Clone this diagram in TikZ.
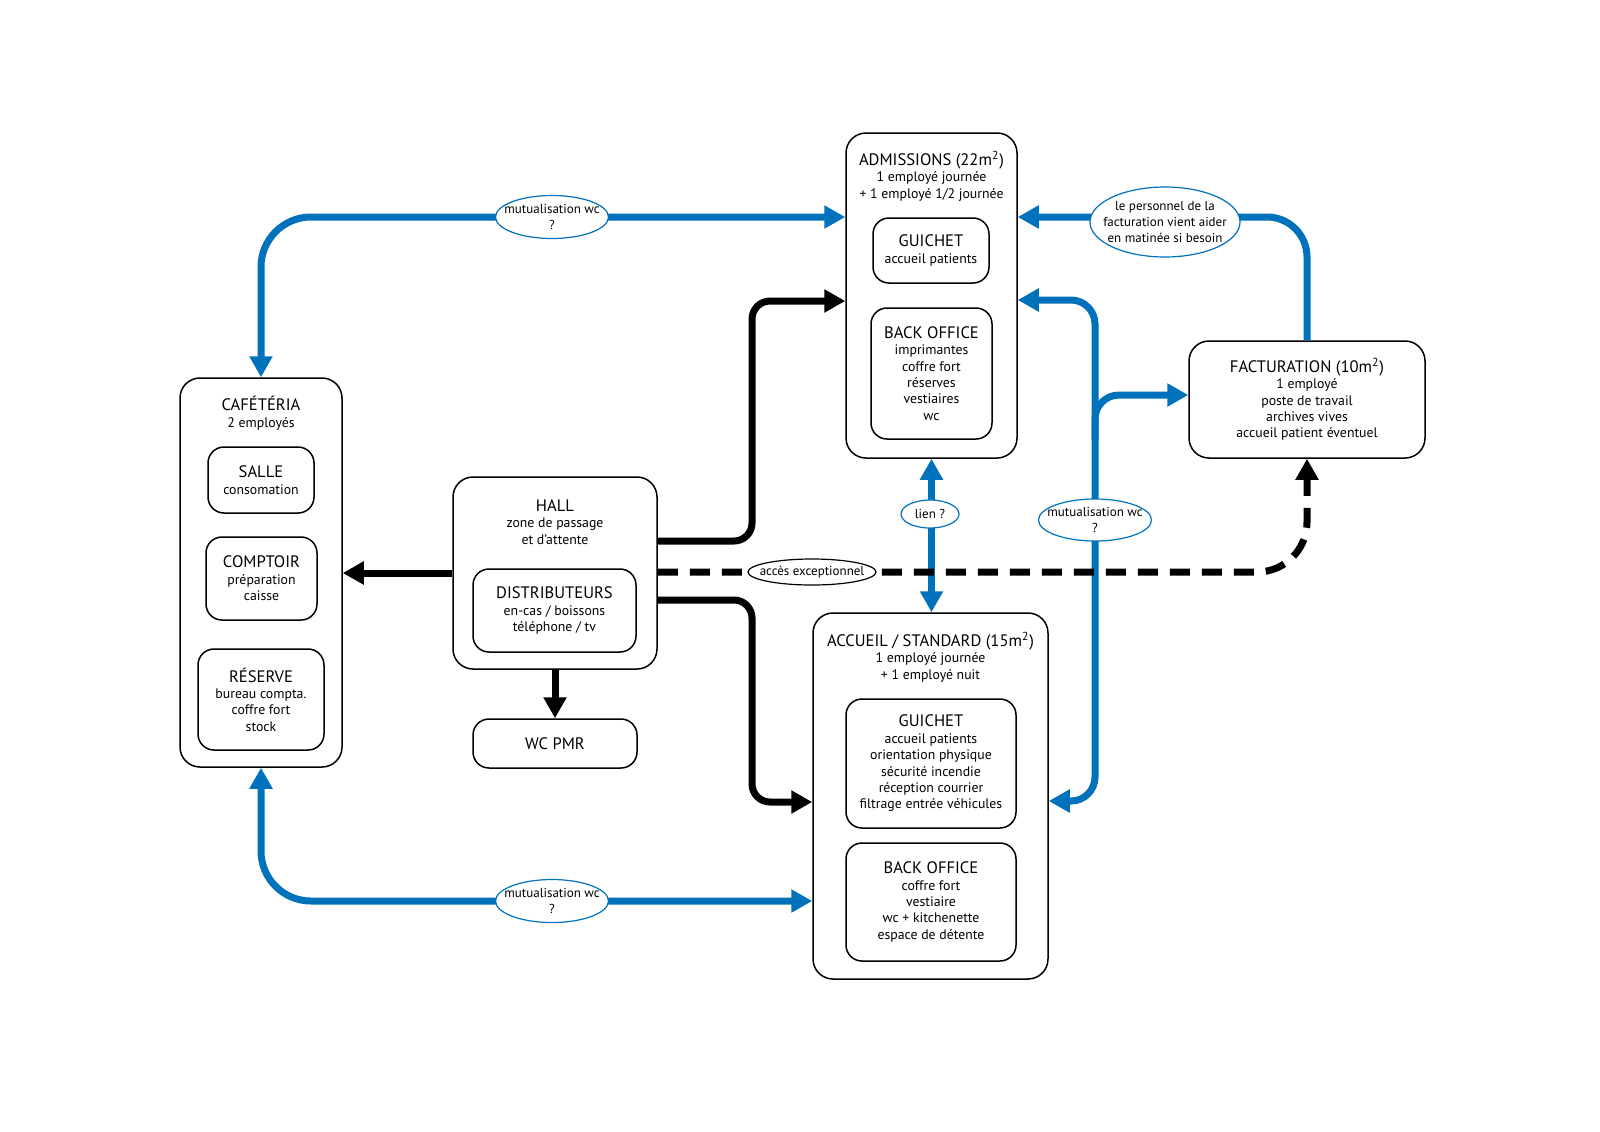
\documentclass[tikz,border=0pt]{standalone}
\usepackage{fontspec}
\setmainfont{PT Sans}
\usetikzlibrary{arrows.meta,shapes.geometric}
\definecolor{cblue}{RGB}{0,114,188}
\newcommand\bsz{\fontsize{6.9}{8.2}\selectfont}
\newcommand\tsz{\fontsize{8.3}{8.8}\selectfont}
\newcommand\esz{\fontsize{6.5}{8.0}\selectfont}
\begin{document}
\begin{tikzpicture}[x=0.5pt,y=-0.5pt,
 font=\bsz,
 box/.style={draw, line width=0.75pt, rounded corners=10pt, inner sep=0pt, align=center},
 ibox/.style={draw, line width=0.75pt, rounded corners=8pt, align=center, inner sep=0pt},
 ttl/.style={align=center, inner sep=0pt, anchor=north},
 bl/.style={draw=cblue, line width=3.5pt},
 bk/.style={draw=black, line width=3.5pt},
 bigtip/.tip={Triangle[length=10.5pt,width=11pt]},
 ell/.style={ellipse, draw=cblue, line width=0.6pt, fill=white, inner sep=0pt},
 etxt/.style={align=center, inner sep=0pt, font=\esz},
]
\useasboundingbox (0,0) rectangle (1600,1131);

% outer boxes
\node[box, minimum width=85.5pt, minimum height=162.5pt] (adm) at (931.5,295.5) {};
\node[ttl] (admt) at (931.5,151) {{\tsz ADMISSIONS (22m\textsuperscript{2})}\\1 employé journée\\+ 1 employé 1/2 journée};
\node[ibox, minimum width=58pt, minimum height=32.5pt] (admg) at (931,250.5) {{\tsz GUICHET}\\accueil patients};
\node[ibox, minimum width=60.5pt, minimum height=65.5pt] (admb) at (931.5,373.5) {{\tsz BACK OFFICE}\\imprimantes\\coffre fort\\réserves\\vestiaires\\wc};

\node[box, minimum width=81pt, minimum height=194.5pt] (caf) at (261,572.5) {};
\node[ttl] (caft) at (261,396) {{\tsz CAFÉTÉRIA}\\2 employés};
\node[ibox, minimum width=53pt, minimum height=33pt] (salle) at (261,480) {{\tsz SALLE}\\consomation};
\node[ibox, minimum width=55.5pt, minimum height=41.5pt] (compt) at (261.5,578.5) {{\tsz COMPTOIR}\\préparation\\caisse};
\node[ibox, minimum width=63pt, minimum height=50.5pt] (res) at (261,699.5) {{\tsz RÉSERVE}\\bureau compta.\\coffre fort\\stock};

\node[box, minimum width=102pt, minimum height=96pt] (hall) at (555,573) {};
\node[ttl] (hallt) at (555,499) {{\tsz HALL}\\zone de passage\\et d'attente};
\node[ibox, minimum width=81.5pt, minimum height=41.5pt] (distr) at (554.5,610.5) {{\tsz DISTRIBUTEURS}\\en-cas / boissons\\téléphone / tv};
\node[ibox, minimum width=82pt, minimum height=24.5pt] (wc) at (555,743.5) {{\tsz WC PMR}};

\node[box, minimum width=117.5pt, minimum height=183pt] (acc) at (930.5,796) {};
\node[ttl] (acct) at (930.5,632) {{\tsz ACCUEIL / STANDARD (15m\textsuperscript{2})}\\1 employé journée\\+ 1 employé nuit};
\node[ibox, minimum width=85pt, minimum height=64.5pt] (accg) at (931,763.5) {{\tsz GUICHET}\\accueil patients\\orientation physique\\sécurité incendie\\réception courrier\\filtrage entrée véhicules};
\node[ibox, minimum width=85pt, minimum height=59pt] (accb) at (931,902) {{\tsz BACK OFFICE}\\coffre fort\\vestiaire\\wc + kitchenette\\espace de détente};

\node[box, minimum width=118pt, minimum height=58.5pt] (fac) at (1307,399.5) {{\tsz FACTURATION (10m\textsuperscript{2})}\\1 employé\\poste de travail\\archives vives\\accueil patient éventuel};

% blue connectors
\draw[bl, rounded corners=25pt, {bigtip}-{bigtip}] (caf.north) |- (adm.west |- 0,217);
\draw[bl, rounded corners=25pt, {bigtip}-{bigtip}] (caf.south) |- (acc.west |- 0,901);
\draw[bl, {bigtip}-{bigtip}] (adm.south) -- (adm.south |- acc.north);
\draw[bl, rounded corners=12pt, {bigtip}-{bigtip}] (adm.east |- 0,300) -| (1095,801) -- (acc.east |- 0,801);
\draw[bl, rounded corners=12pt, -{bigtip}] (1095,440) |- (fac.west |- 0,395);
\draw[bl, rounded corners=20pt, -{bigtip}] (fac.north) |- (adm.east |- 0,217);

% black connectors
\draw[bk, rounded corners=9pt, -{bigtip}] (hall.east |- 0,541) -| (752,301) -- (adm.west |- 0,301);
\draw[bk, rounded corners=9pt, -{bigtip}] (hall.east |- 0,600) -| (752,802) -- (acc.west |- 0,802);
\draw[bk, -{bigtip}] (hall.west) -- (caf.east |- hall.west);
\draw[bk, -{bigtip}] (hall.south) -- (wc.north);
\draw[bk, dash pattern=on 10pt off 6pt, rounded corners=25pt, -{bigtip}] (hall.east |- 0,572) -| (fac.south);

% labels
\node[ell, minimum width=56.5pt, minimum height=21.5pt] (m1) at (552,217) {};
\node[etxt] (m1t) at (m1) {mutualisation wc\\?};
\node[ell, minimum width=56.5pt, minimum height=21.5pt] (m2) at (552,901) {};
\node[etxt] (m2t) at (m2) {mutualisation wc\\?};
\node[ell, minimum width=56.5pt, minimum height=21pt] (m3) at (1095,520) {};
\node[etxt] (m3t) at (m3) {mutualisation wc\\?};
\node[ell, minimum width=75pt, minimum height=35pt] (pers) at (1165,222) {};
\node[etxt] (perst) at (pers) {le personnel de la\\facturation vient aider\\en matinée si besoin};
\node[ell, minimum width=29pt, minimum height=14pt] (lien) at (930,514) {};
\node[etxt] (lient) at (lien) {lien ?};
\node[ell, draw=black, minimum width=64pt, minimum height=13pt] (acces) at (812,572) {};
\node[etxt] (accest) at (acces) {accès exceptionnel};
\end{tikzpicture}
\end{document}
